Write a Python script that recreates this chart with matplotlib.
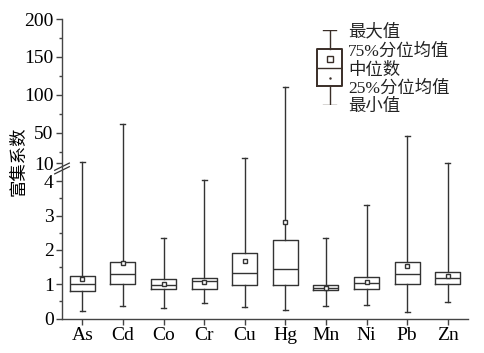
import numpy as np
import matplotlib
matplotlib.use('Agg')
from matplotlib import pyplot as plt

# enrichment coefficient statistics per element
elements = ['As', 'Cd', 'Co', 'Cr', 'Cu', 'Hg', 'Mn', 'Ni', 'Pb', 'Zn']
mins = [0.21, 0.37, 0.32, 0.45, 0.33, 0.25, 0.35, 0.39, 0.18, 0.48]
q1s = [0.79, 1.02, 0.85, 0.87, 0.99, 0.98, 0.82, 0.86, 1.00, 1.02]
meds = [1.00, 1.29, 0.97, 1.09, 1.33, 1.43, 0.90, 1.04, 1.30, 1.18]
q3s = [1.25, 1.66, 1.14, 1.18, 1.90, 2.29, 0.97, 1.20, 1.66, 1.37]
maxs = [12.0, 62.0, 2.36, 4.05, 17.0, 110.0, 2.35, 3.32, 46.0, 11.0]
means = [1.14, 1.63, 1.00, 1.05, 1.69, 2.81, 0.90, 1.07, 1.52, 1.25]

y_major = [0, 1, 2, 3, 4, 10, 50, 100, 150, 200]
y_minor = [0.5, 1.5, 2.5, 3.5, 25, 75, 125, 175]
legend_labels = ['最大值', '75%分位均值', '中位数', '25%分位均值', '最小值']

serif = ['Liberation Serif', 'Noto Sans CJK SC']
cjk = ['Noto Sans CJK SC', 'Liberation Serif']

# broken axis: 0-4.4 stretched, 4.4-10 squeezed, 10-200 compressed
BRK = 4.4
LO, MID, HI = 34.3, 0.75, 0.76


def fwd(v):
    v = np.asarray(v, dtype=float)
    a = BRK * LO
    b = a + (10 - BRK) * MID
    return np.where(v <= BRK, v * LO,
                    np.where(v <= 10, a + (v - BRK) * MID, b + (v - 10) * HI))


def inv(p):
    p = np.asarray(p, dtype=float)
    a = BRK * LO
    b = a + (10 - BRK) * MID
    return np.where(p <= a, p / LO,
                    np.where(p <= b, BRK + (p - a) / MID, 10 + (p - b) / HI))


fig = plt.figure(figsize=(4.84, 3.53), dpi=100)
ax = fig.add_axes([62 / 484, 1 - 318.5 / 353, 406 / 484, 299.5 / 353])

stats = []
for i in range(len(elements)):
    stats.append(dict(label=elements[i], whislo=mins[i], q1=q1s[i], med=meds[i],
                      q3=q3s[i], whishi=maxs[i], mean=means[i], fliers=[]))

lc = '#333333'
ax.bxp(stats, positions=range(len(elements)), widths=0.62, capwidths=0.12,
       showmeans=True, showfliers=False,
       boxprops=dict(color=lc, lw=1.0),
       medianprops=dict(color=lc, lw=1.0),
       whiskerprops=dict(color=lc, lw=1.0),
       capprops=dict(color=lc, lw=1.0),
       meanprops=dict(marker='s', markersize=3.5, markerfacecolor='white',
                      markeredgecolor=lc, markeredgewidth=1.0))

ax.set_yscale('function', functions=(fwd, inv))
ax.set_ylim(0, 200)
ax.set_xlim(-0.5, len(elements) - 0.5)
ax.set_yticks(y_major)
ax.set_yticks(y_minor, minor=True)
ax.set_yticklabels([str(v) for v in y_major], family=serif, fontsize=14)
ax.set_xticks(range(len(elements)))
ax.set_xticklabels(elements, family=serif, fontsize=14)
ax.tick_params(direction='out', length=4, width=1, color='#444444', pad=2)
ax.tick_params(which='minor', direction='out', length=2.5, width=1, color='#444444')
for s in ['top', 'right']:
    ax.spines[s].set_visible(False)
for s in ['left', 'bottom']:
    ax.spines[s].set_color('#444444')
    ax.spines[s].set_linewidth(1.0)

# axis break marks
yb = fwd(BRK + 1.2) / fwd(200)
for dy in (-0.012, 0.0):
    ax.plot([-0.018, 0.018], [yb + dy - 0.012, yb + dy + 0.012],
            transform=ax.transAxes, color='#333333', lw=0.9, clip_on=False)

fig.text(19 / 484, 1 - 161 / 353, '富集系数', rotation=90, ha='center', va='center',
         family=cjk, fontsize=12.5)

# legend key
lax = fig.add_axes([309 / 484, 1 - 105 / 353, 41 / 484, 74.7 / 353])
key = [dict(whislo=0, q1=1, med=2, q3=3, whishi=4, mean=2.45, fliers=[])]
lax.bxp(key, positions=[0], widths=0.62, capwidths=0.3, showmeans=True, showfliers=False,
        boxprops=dict(color='#3a2e28', lw=1.4),
        medianprops=dict(color='#3a2e28', lw=1.0),
        whiskerprops=dict(color='#3a2e28', lw=1.0),
        capprops=dict(color='#3a2e28', lw=1.0),
        meanprops=dict(marker='s', markersize=4, markerfacecolor='white',
                       markeredgecolor='#3a2e28', markeredgewidth=1.0))
lax.plot([0], [1.45], marker='.', markersize=1.5, color='#3a2e28')
lax.set_xlim(-0.5, 0.5)
lax.set_ylim(0, 4)
lax.axis('off')

leg_y = [31.7, 51.7, 70.7, 88.3, 106.7]
for lab, yy in zip(legend_labels, leg_y):
    fig.text(348 / 484, 1 - yy / 353, lab, ha='left', va='center', family=serif,
             fontsize=12.5, color='#222222')

fig.savefig('out.png', dpi=100)
